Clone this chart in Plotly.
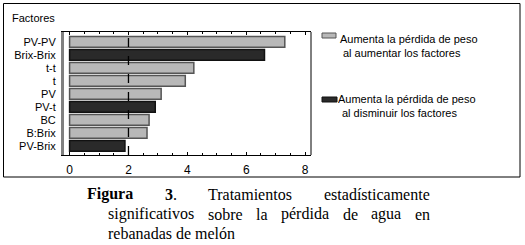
import plotly.graph_objects as go

# ---- data ----
factors = ["PV-PV", "Brix-Brix", "t-t", "t", "PV", "PV-t", "BC", "B:Brix", "PV-Brix"]
effects = [7.31, 6.62, 4.22, 3.93, 3.11, 2.91, 2.70, 2.63, 1.88]
direction = ["up", "down", "up", "up", "up", "down", "up", "up", "down"]
threshold = 2.0
x_tickvals = [0, 2, 4, 6, 8]
legend_lines = {
    "up": ["Aumenta la pérdida de peso", "al aumentar los factores"],
    "down": ["Aumenta la pérdida de peso", "al disminuir los factores"],
}
caption_line1 = [("Figura", True), ("3", True), ("Tratamientos", False), ("estadísticamente", False)]
caption_line2 = ["significativos", "sobre", "la", "pérdida", "de", "agua", "en"]
caption_line3 = "rebanadas de melón"

# ---- style ----
W, H = 525, 245
L, R, T, B = 64, 214, 32, 90
PW, PH = W - L - R, H - T - B
fill = {"up": "#b8b8b8", "down": "#2a2a2a"}
edge = {"up": "#555555", "down": "#111111"}
SANS = "Arial, Liberation Sans, sans-serif"
SERIF = "Times New Roman, Liberation Serif, serif"
CAP_SIZE = 16

# Times (Liberation Serif) advance widths in em, for justification of the caption
TR = dict(zip("abcdefghilmnoprstuvéíó.", [.444, .5, .444, .5, .444, .333, .5, .5, .278, .278, .778, .5, .5,
                                           .5, .333, .389, .278, .5, .5, .444, .278, .5, .25]))
TR["T"] = .611
TB = {"F": .611, "i": .278, "g": .5, "u": .556, "r": .444, "a": .5, "3": .5}


def tw(word, bold=False):
    tab = TB if bold else TR
    return sum(tab[c] for c in word) * CAP_SIZE


def px(x):
    return (x - L) / PW


def py(y):
    return (H - B - y) / PH


fig = go.Figure()
fig.add_trace(go.Bar(
    x=effects, y=factors, orientation="h",
    marker=dict(color=[fill[d] for d in direction],
                line=dict(color=[edge[d] for d in direction], width=1.5)),
    width=0.84, showlegend=False, hoverinfo="x+y",
))

fig.add_vline(x=threshold, line=dict(color="black", width=1.3, dash="dash"))

shapes = [
    dict(type="line", xref="paper", yref="paper", x0=1, x1=1, y0=0, y1=1,
         line=dict(color="black", width=1)),
    dict(type="rect", xref="paper", yref="paper", x0=px(3.5), x1=px(520), y0=py(177), y1=py(3.5),
         line=dict(color="black", width=1)),
    dict(type="rect", xref="paper", yref="paper", x0=px(322), x1=px(336), y0=py(38), y1=py(33),
         fillcolor=fill["up"], line=dict(color=edge["up"], width=1)),
    dict(type="rect", xref="paper", yref="paper", x0=px(322), x1=px(337), y0=py(102), y1=py(97),
         fillcolor=fill["down"], line=dict(color=edge["down"], width=1)),
]
for s in shapes:
    fig.add_shape(**s)

ann = []
ann.append(dict(text="Factores", x=px(12), y=py(18), xanchor="left", yanchor="middle",
                font=dict(family=SANS, size=11, color="black")))
legend_pos = {"up": [(340, 39), (343, 53)], "down": [(338, 99), (342, 113)]}
for key in ["up", "down"]:
    for txt, (lx, ly) in zip(legend_lines[key], legend_pos[key]):
        ann.append(dict(text=txt, x=px(lx), y=py(ly), xanchor="left", yanchor="middle",
                        font=dict(family=SANS, size=11, color="black")))


def cap(text, x0, y0):
    ann.append(dict(text=text, x=px(x0), y=py(y0), xanchor="left", yanchor="middle",
                    font=dict(family=SERIF, size=CAP_SIZE, color="black")))


# line 1 (justified 87 -> 430)
widths1 = [tw(w, b) for w, b in caption_line1]
widths1[1] += TR["."] * CAP_SIZE
gap1 = (430 - 87 - sum(widths1)) / (len(widths1) - 1)
x = 87
for (w, b), wd in zip(caption_line1, widths1):
    txt = f"<b>{w}</b>" if b else w
    if w == "3":
        txt += "."
    cap(txt, x, 194)
    x += wd + gap1
# line 2 (justified 108 -> 430)
widths2 = [tw(w) for w in caption_line2]
gap2 = (430 - 108 - sum(widths2)) / (len(widths2) - 1)
x = 108
for w, wd in zip(caption_line2, widths2):
    cap(w, x, 214)
    x += wd + gap2
# line 3
cap(caption_line3, 108, 233)

for a in ann:
    fig.add_annotation(xref="paper", yref="paper", showarrow=False, borderpad=0, borderwidth=0, **a)

fig.update_layout(
    width=W, height=H,
    margin=dict(l=L, r=R, t=T, b=B, pad=0),
    paper_bgcolor="white", plot_bgcolor="white",
    font=dict(family=SANS, size=11, color="black"),
    xaxis=dict(range=[-0.19, 8.2], tickvals=x_tickvals, ticks="inside", ticklen=3,
               tickcolor="black", showline=True, linecolor="black", linewidth=1,
               mirror="allticks", showgrid=False, zeroline=False,
               minor=dict(dtick=0.5, ticks="inside", ticklen=2, tickcolor="black"),
               tickfont=dict(family=SANS, size=12), ticklabelstandoff=4),
    yaxis=dict(categoryorder="array", categoryarray=factors, range=[8.7, -0.76],
               showline=True, linecolor="#808080", linewidth=3, ticks="",
               showgrid=False, zeroline=False, tickfont=dict(family=SANS, size=11),
               ticklabelstandoff=3),
)

fig.write_html("out.html", config={"displayModeBar": False},
               post_script="document.body.style.margin='0';")
